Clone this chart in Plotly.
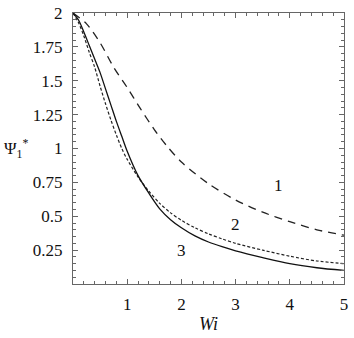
import plotly.graph_objects as go

wi_1 = [0, 0.25, 0.5, 0.75, 1.0, 1.25, 1.5, 1.75, 2.0, 2.5, 3.0, 3.5, 4.0, 4.5, 5.0]
psi_1 = [2.00, 1.92, 1.78, 1.60, 1.45, 1.29, 1.14, 1.01, 0.90, 0.74, 0.62, 0.53, 0.46, 0.40, 0.36]

wi_23 = [0, 0.1, 0.2, 0.3, 0.4, 0.5, 0.6, 0.7, 0.8, 0.9, 1.0, 1.2, 1.4, 1.6, 1.8, 2.0,
         2.25, 2.5, 2.75, 3.0, 3.5, 4.0, 4.5, 5.0]
psi_2 = [2.00, 1.93, 1.83, 1.71, 1.60, 1.46, 1.33, 1.21, 1.10, 1.00, 0.92, 0.79, 0.685,
         0.595, 0.525, 0.47, 0.415, 0.37, 0.333, 0.30, 0.25, 0.205, 0.17, 0.15]
psi_3 = [2.00, 1.95, 1.86, 1.76, 1.66, 1.56, 1.44, 1.32, 1.20, 1.09, 0.98, 0.80, 0.67,
         0.555, 0.475, 0.415, 0.355, 0.31, 0.275, 0.245, 0.195, 0.15, 0.12, 0.10]

x_ticks = [1, 2, 3, 4, 5]
y_ticks = [0.25, 0.5, 0.75, 1, 1.25, 1.5, 1.75, 2]
y_tick_text = ["0.25", "0.5", "0.75", "1", "1.25", "1.5", "1.75", "2"]

curve_labels = ["1", "2", "3"]
label_x = [3.8, 3.0, 2.0]
label_y = [0.73, 0.44, 0.25]

font_family = "Liberation Serif, Times New Roman, serif"

fig = go.Figure()
fig.add_trace(go.Scatter(x=wi_1, y=psi_1, mode="lines",
                         line=dict(color="#222", width=1.3, dash="8px,6px", shape="spline", smoothing=0.8)))
fig.add_trace(go.Scatter(x=wi_23, y=psi_2, mode="lines",
                         line=dict(color="#222", width=1.2, dash="3px,2px", shape="spline", smoothing=0.8)))
fig.add_trace(go.Scatter(x=wi_23, y=psi_3, mode="lines",
                         line=dict(color="#111", width=1.3, shape="spline", smoothing=0.8)))

for t, xx, yy in zip(curve_labels, label_x, label_y):
    fig.add_annotation(x=xx, y=yy, text=t, showarrow=False,
                       font=dict(family=font_family, size=17, color="#111"))

fig.add_annotation(xref="paper", yref="paper", x=-0.21, y=0.5, text="Ψ<sub>1</sub><sup>*</sup>",
                   showarrow=False, xanchor="center", yanchor="middle",
                   font=dict(family=font_family, size=17, color="#111"))

axis_common = dict(
    showline=True, linecolor="#666", linewidth=1.2, mirror="ticks",
    ticks="inside", ticklen=5, tickcolor="#666", tickwidth=1,
    showgrid=False, zeroline=False, automargin=False,
    tickfont=dict(family=font_family, size=17, color="#111"),
)

fig.update_layout(
    width=354, height=338,
    margin=dict(l=73, r=10, t=13, b=54),
    paper_bgcolor="white", plot_bgcolor="white",
    showlegend=False,
    xaxis=dict(range=[0, 5], tickvals=x_ticks, ticklabelstandoff=4,
               minor=dict(ticks="inside", ticklen=2.5, tickcolor="#666", dtick=0.2, showgrid=False),
               title=dict(text="<i>Wi</i>", font=dict(family=font_family, size=18, color="#111"), standoff=4),
               **axis_common),
    yaxis=dict(range=[0, 2], tickvals=y_ticks, ticktext=y_tick_text, ticklabelstandoff=6,
               minor=dict(ticks="inside", ticklen=2.5, tickcolor="#666", dtick=0.05, showgrid=False),
               **axis_common),
)

fig.write_html("out.html", config={"displayModeBar": False},
               post_script="document.body.style.margin='0';")
